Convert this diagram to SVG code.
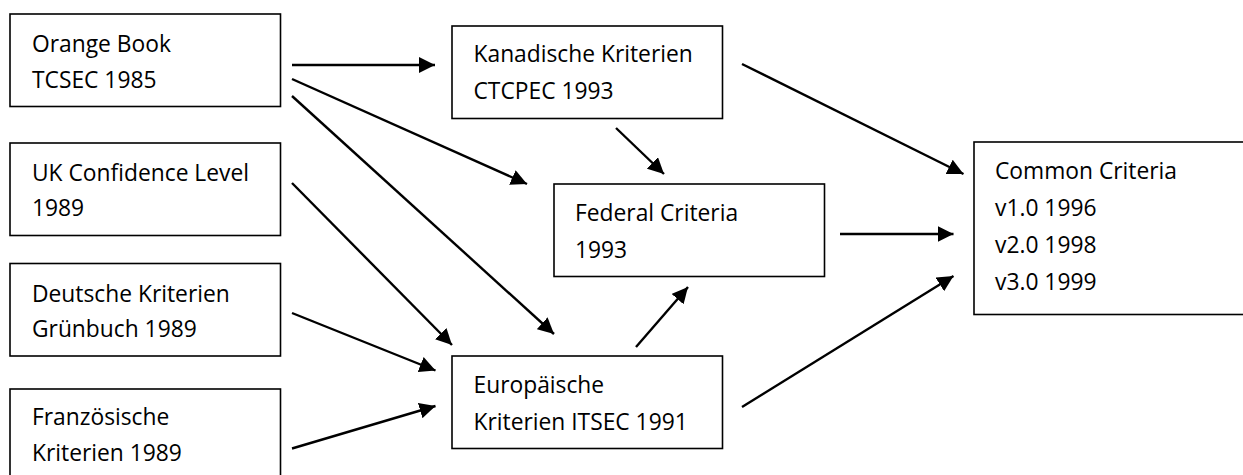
<svg xmlns="http://www.w3.org/2000/svg" width="1243" height="475" viewBox="0 0 1243 475">
<style>
.box{fill:#fff;stroke:#000;stroke-width:1.6}
.t{font-family:"Open Sans","Liberation Sans",sans-serif;font-size:22.8px;fill:#000}
.c{stroke:#000;stroke-width:2.4;fill:none;marker-end:url(#ah)}
</style>
<defs>
<marker id="ah" markerUnits="userSpaceOnUse" markerWidth="17" markerHeight="16" refX="16" refY="8" orient="auto" viewBox="0 0 17 16">
<path d="M0,0 L16,8 L0,16 z" fill="#000"/>
</marker>
</defs>
<rect width="1243" height="475" fill="#fff"/>
<g id="connectors">
<line class="c" x1="292" y1="65" x2="435" y2="65"/>
<line class="c" x1="292" y1="79" x2="527" y2="184"/>
<line class="c" x1="292" y1="96" x2="554" y2="334"/>
<line class="c" x1="292" y1="183" x2="452" y2="345"/>
<line class="c" x1="292" y1="313" x2="435.5" y2="370.5"/>
<line class="c" x1="292" y1="448.5" x2="435.5" y2="406"/>
<line class="c" x1="616" y1="128" x2="664" y2="174"/>
<line class="c" x1="742" y1="64" x2="963.5" y2="174"/>
<line class="c" x1="840" y1="234" x2="953.5" y2="234"/>
<line class="c" x1="636" y1="347" x2="688" y2="287"/>
<line class="c" x1="742" y1="407" x2="953.5" y2="276"/>
</g>
<g id="orange-book">
<rect class="box" x="10" y="14" width="270.5" height="92.5"/>
<text class="t" x="32" y="52">Orange Book</text>
<text class="t" x="32" y="88">TCSEC 1985</text>
</g>
<g id="uk">
<rect class="box" x="10" y="143" width="270.5" height="92.5"/>
<text class="t" x="32" y="180.5">UK Confidence Level</text>
<text class="t" x="32" y="216">1989</text>
</g>
<g id="deutsche">
<rect class="box" x="10" y="263.5" width="270.5" height="92.5"/>
<text class="t" x="32" y="301.5">Deutsche Kriterien</text>
<text class="t" x="32" y="337">Grünbuch 1989</text>
</g>
<g id="franzoesische">
<rect class="box" x="10" y="389" width="270.5" height="92.5"/>
<text class="t" x="32" y="425">Französische</text>
<text class="t" x="32" y="461">Kriterien 1989</text>
</g>
<g id="kanadische">
<rect class="box" x="452" y="26" width="270.5" height="92.5"/>
<text class="t" x="473.5" y="62">Kanadische Kriterien</text>
<text class="t" x="473.5" y="99">CTCPEC 1993</text>
</g>
<g id="federal">
<rect class="box" x="554" y="184" width="270.5" height="92.5"/>
<text class="t" x="575" y="220.5">Federal Criteria</text>
<text class="t" x="575" y="257.5">1993</text>
</g>
<g id="europaeische">
<rect class="box" x="452" y="356" width="270.5" height="92.5"/>
<text class="t" x="473.5" y="392.5">Europäische</text>
<text class="t" x="473.5" y="429.5">Kriterien ITSEC 1991</text>
</g>
<g id="common-criteria">
<rect class="box" x="974" y="142" width="271" height="172.5"/>
<text class="t" x="995" y="179">Common Criteria</text>
<text class="t" x="995" y="216">v1.0 1996</text>
<text class="t" x="995" y="253">v2.0 1998</text>
<text class="t" x="995" y="289.5">v3.0 1999</text>
</g>
</svg>
